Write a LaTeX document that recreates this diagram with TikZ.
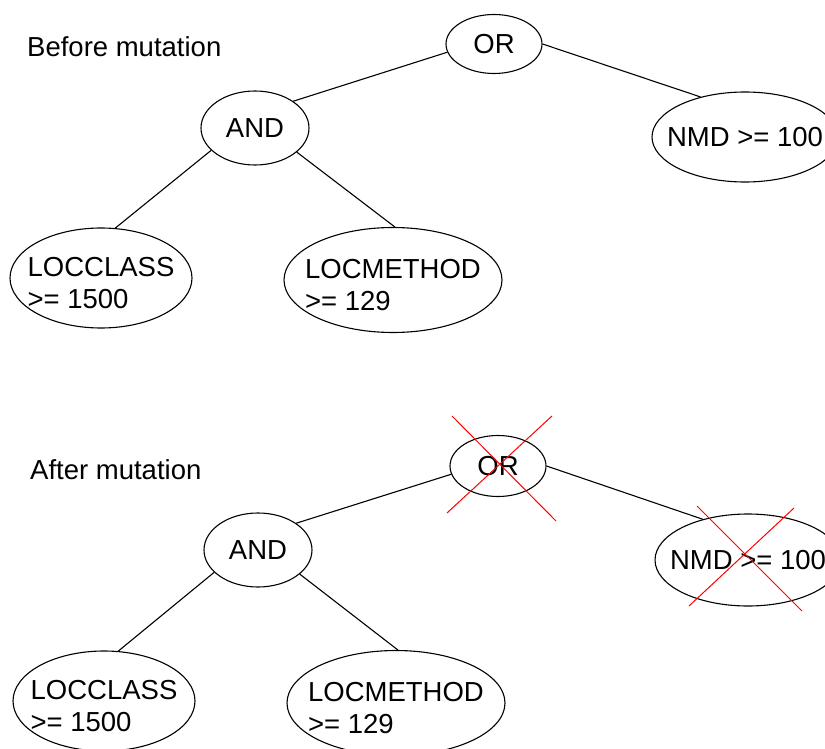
\documentclass[tikz,border=0pt]{standalone}
\usepackage{fontspec}
\setmainfont{Liberation Sans}
\usepackage{xcolor}
\usepackage{tikz}
\usetikzlibrary{shapes.geometric, calc}
\definecolor{crossred}{HTML}{FF0000}
\tikzstyle{condnode} = [ellipse, draw=black, line width=1.1pt, inner sep=-20pt, align=left,
  font=\fontsize{27.5}{32}\selectfont]
\tikzstyle{twoline} = [condnode, text height=62pt]
\tikzstyle{titletext} = [anchor=base west, inner sep=0pt, font=\fontsize{27.5}{32}\selectfont]
\tikzstyle{link} = [line width=1.1pt]
\tikzstyle{cross} = [crossred, line width=1pt]

\begin{document}
\begin{tikzpicture}[x=1pt, y=-1pt]
  \useasboundingbox (0,0) rectangle (825,749);

  % before mutation
  \node (before) [titletext] at (27,57) {Before mutation};
  \node (or1) [condnode, minimum width=96pt, minimum height=59pt] at (494,44) {OR};
  \node (and1)[condnode, minimum width=108pt, minimum height=74pt] at (255,128) {AND};
  \node (nmd1)[condnode, minimum width=186pt, minimum height=90pt] at (745,137) {NMD >= 100};
  \node (lc1) [twoline, minimum width=182pt, minimum height=100pt] at (101,278) {LOCCLASS\\>= 1500};
  \node (lm1) [twoline, minimum width=218pt, minimum height=105pt] at (393,280) {LOCMETHOD\\>= 129};

  \draw[link] (or1.190) -- (and1.35);
  \draw[link] (or1.0) -- (nmd1.138);
  \draw[link] (and1.207) -- (lc1.74);
  \draw[link] (and1.330) -- (lm1.88);

  % after mutation
  \node (after) [titletext] at (30,479) {After mutation};
  \node (or2) [condnode, minimum width=96pt, minimum height=61pt] at (498,466) {OR};
  \node (and2)[condnode, minimum width=108pt, minimum height=74pt] at (258,550) {AND};
  \node (nmd2)[condnode, minimum width=186pt, minimum height=92pt] at (748,560) {NMD >= 100};
  \node (lc2) [twoline, minimum width=182pt, minimum height=100pt] at (104,701) {LOCCLASS\\>= 1500};
  \node (lm2) [twoline, minimum width=218pt, minimum height=105pt] at (396,703) {LOCMETHOD\\>= 129};

  \draw[link] (or2.190) -- (and2.35);
  \draw[link] (or2.0) -- (nmd2.138);
  \draw[link] (and2.207) -- (lc2.74);
  \draw[link] (and2.330) -- (lm2.88);

  \draw[cross] ($(or2)+(-46,-50)$) -- ($(or2)+(58,55)$);
  \draw[cross] ($(or2)+(54,-50)$) -- ($(or2)+(-51,47)$);
  \draw[cross] ($(nmd2)+(-51,-54)$) -- ($(nmd2)+(54,51)$);
  \draw[cross] ($(nmd2)+(46,-52)$) -- ($(nmd2)+(-59,46)$);
\end{tikzpicture}
\end{document}
